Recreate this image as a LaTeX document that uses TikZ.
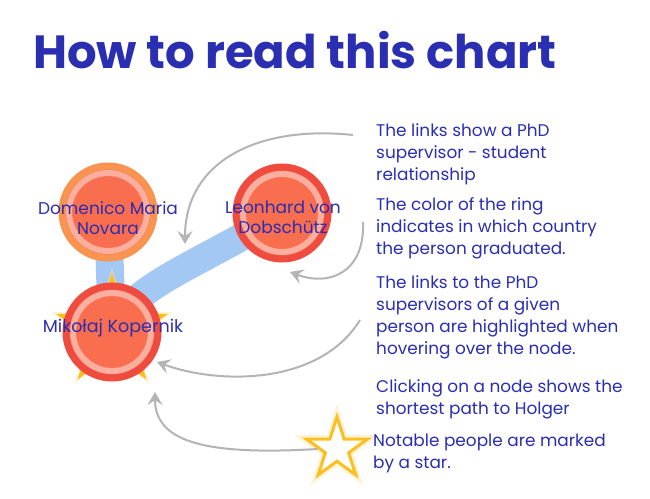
\documentclass[tikz,border=0pt]{standalone}
\usepackage{fontspec}
\setmainfont{Poppins}
\usetikzlibrary{arrows.meta,shapes.geometric}
\definecolor{txtblue}{HTML}{2A2EB0}
\definecolor{coral}{HTML}{FA6E50}
\definecolor{orangering}{HTML}{F8944F}
\definecolor{redring}{HTML}{F04B3F}
\definecolor{linkblue}{HTML}{A4C8F4}
\definecolor{arrowgray}{HTML}{B4B4B4}
\definecolor{starY}{HTML}{FBBF1F}
\tikzset{
  person/.style={circle, inner sep=0, minimum size=92pt, fill=coral, line width=7pt},
  glowring/.style={white, opacity=0.45, line width=6pt},
  lbl/.style={text=txtblue, align=center, font=\fontsize{17}{20}\selectfont, inner sep=0},
  desc/.style={text=txtblue, align=left, anchor=north west, font=\fontsize{16.9}{22}\selectfont, inner sep=0},
  link/.style={draw=linkblue, line width=28pt},
  hint/.style={draw=arrowgray, line width=2pt, -{Stealth[length=13pt,width=15pt,inset=5pt]}},
  notestar/.style={star, star points=5, star point ratio=2.618, inner sep=0},
}
\begin{document}
\begin{tikzpicture}[x=1pt,y=-1pt]
\useasboundingbox (0,0) rectangle (650,498);
\fill[white] (0,0) rectangle (650,498);
% title
\node[anchor=base west, inner sep=0, text=txtblue, font=\bfseries\fontsize{46.5}{46.5}\selectfont] (title) at (33,68) {How to read this chart};
% centres
\coordinate (domc) at (108,212);
\coordinate (leoc) at (282,213);
\coordinate (kopc) at (112,332);
% links
\draw[link] (domc) -- (kopc);
\draw[link] (kopc) .. controls (130,285) and (200,265) .. (leoc);
% star behind Kopernik
\node[notestar, minimum size=128pt, fill=starY!40, opacity=0.45] at (kopc) {};
\node[notestar, minimum size=118pt, fill=starY] (kstar) at (kopc) {};
% persons
\node[person, draw=orangering] (dom) at (domc) {};
\draw[glowring] (dom.center) circle (39pt);
\node[person, draw=redring] (leo) at (leoc) {};
\draw[glowring] (leo.center) circle (39pt);
\node[person, draw=redring] (kop) at (kopc) {};
\draw[glowring] (kop.center) circle (39pt);
\node[lbl] (doml) at (108,218) {Domenico Maria\\Novara};
\node[lbl] (leol) at (283,217) {Leonhard von\\Dobschütz};
\node[lbl, font=\fontsize{17.5}{20}\selectfont] (kopl) at (113,328) {Mikołaj Kopernik};
% hollow star
\node[notestar, minimum size=64pt, draw=starY!50, line width=8pt, opacity=0.35] at (337,449) {};
\node[notestar, minimum size=64pt, draw=starY, line width=3pt, fill=white] (hstar) at (337,449) {};
% descriptions
\node[desc] (t1) at (376,123) {The links show a PhD\\supervisor - student\\relationship};
\node[desc] (t2) at (376,197) {The color of the ring\\indicates in which country\\the person graduated.};
\node[desc] (t3) at (376,275) {The links to the PhD\\supervisors of a given\\person are highlighted when\\hovering over the node.};
\node[desc] (t4) at (376,379) {Clicking on a node shows the\\shortest path to Holger};
\node[desc] (t5) at (373,434) {Notable people are marked\\by a star.};
% hint arrows
\coordinate (a1s) at (353,135);
\coordinate (a2s) at (363,222);
\coordinate (a3s) at (360,320);
\draw[hint] (a1s) .. controls (260,125) and (185,160) .. (185,244);
\draw[hint] (a2s) .. controls (365,272) and (330,287) .. (290,272);
\draw[hint] (a3s) .. controls (320,385) and (220,385) .. (157,362);
\draw[hint] (hstar.west) .. controls (200,456) and (155,440) .. (155,392);
\end{tikzpicture}
\end{document}
